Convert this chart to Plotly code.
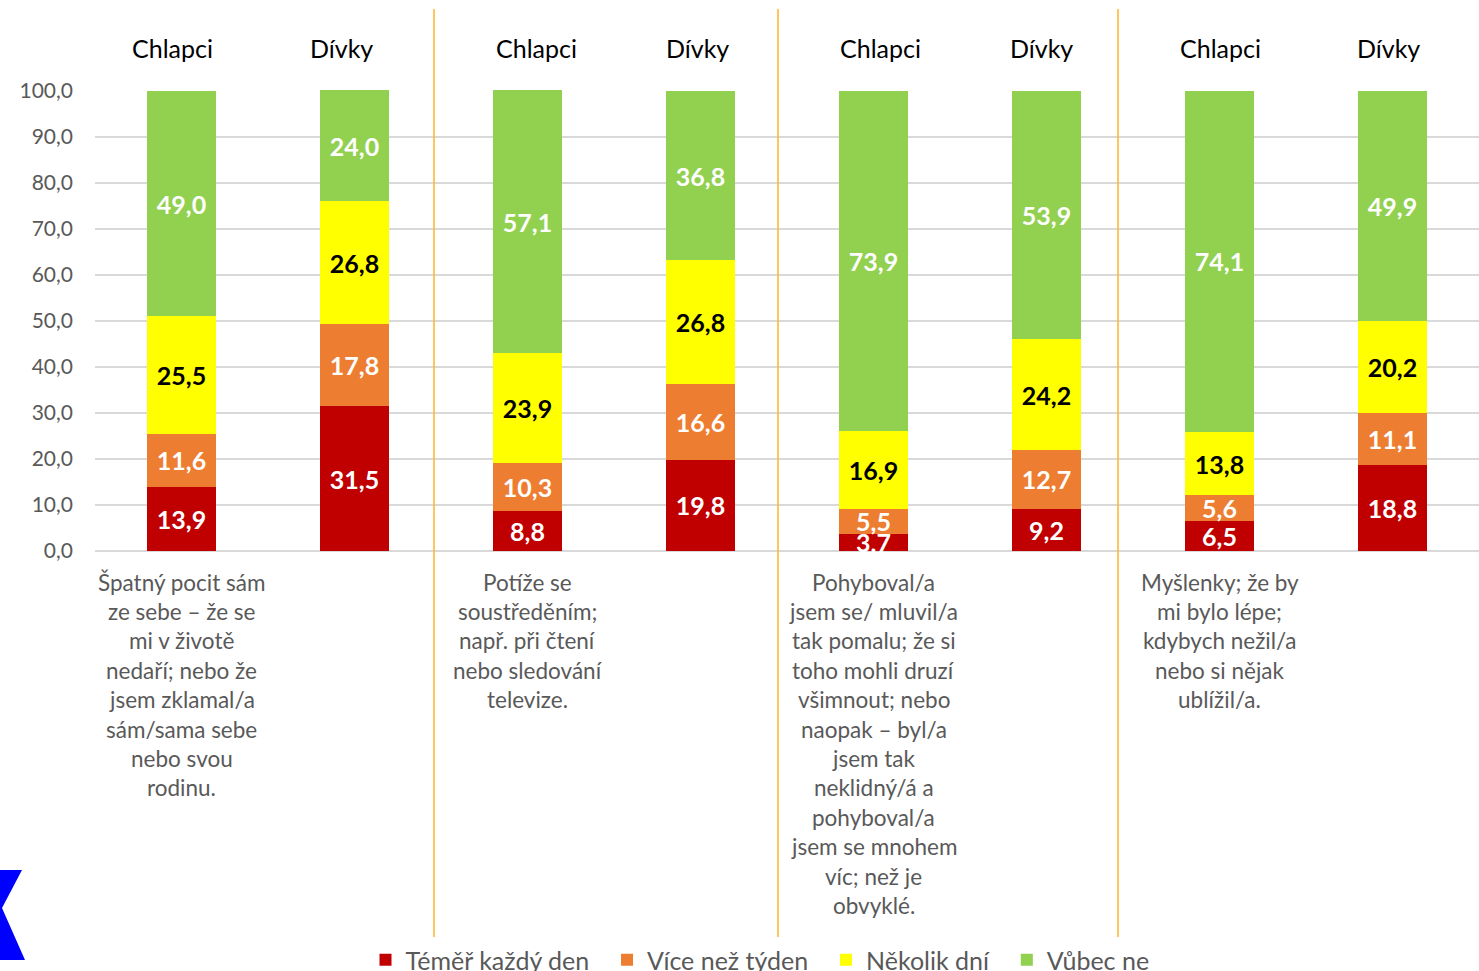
import plotly.graph_objects as go

# ---- data ----
bar_labels = ["Chlapci", "Dívky", "Chlapci", "Dívky", "Chlapci", "Dívky", "Chlapci", "Dívky"]
series_names = ["Téměř každý den", "Více než týden", "Několik dní", "Vůbec ne"]
temer_kazdy_den = [13.9, 31.5, 8.8, 19.8, 3.7, 9.2, 6.5, 18.8]
vice_nez_tyden = [11.6, 17.8, 10.3, 16.6, 5.5, 12.7, 5.6, 11.1]
nekolik_dni = [25.5, 26.8, 23.9, 26.8, 16.9, 24.2, 13.8, 20.2]
vubec_ne = [49.0, 24.0, 57.1, 36.8, 73.9, 53.9, 74.1, 49.9]
y_ticks = [0, 10, 20, 30, 40, 50, 60, 70, 80, 90, 100]
descriptions = [
    ["Špatný pocit sám", "ze sebe – že se", "mi v životě", "nedaří; nebo že",
     "jsem zklamal/a", "sám/sama sebe", "nebo svou", "rodinu."],
    ["Potíže se", "soustředěním;", "např. při čtení", "nebo sledování", "televize."],
    ["Pohyboval/a", "jsem se/ mluvil/a", "tak pomalu; že si", "toho mohli druzí",
     "všimnout; nebo", "naopak – byl/a", "jsem tak", "neklidný/á a", "pohyboval/a",
     "jsem se mnohem", "víc; než je", "obvyklé."],
    ["Myšlenky; že by", "mi bylo lépe;", "kdybych nežil/a", "nebo si nějak", "ublížil/a."],
]

colors = ["#C00000", "#ED7D31", "#FFFF00", "#92D050"]
text_colors = ["white", "white", "black", "white"]
FONT = "Lato"

W, H = 1479, 971
YMAX = 100.2
L, R, T, B = 95, 0, 90, 420
pw, ph = W - L - R, H - T - B

def px_x(px):
    return (px - L) / pw

def px_y(py):
    return (H - B - py) / ph

x = list(range(len(bar_labels)))
fig = go.Figure()
series = [temer_kazdy_den, vice_nez_tyden, nekolik_dni, vubec_ne]
for k, (name, vals, c, tc) in enumerate(zip(series_names, series, colors, text_colors)):
    pad = "\u00a0\u00a0" if k < len(series_names) - 1 else ""
    fig.add_trace(go.Bar(
        x=x, y=vals, name=name + pad, marker=dict(color=c, line=dict(width=0)),
        width=0.4, text=[f"<b>{v:.1f}</b>".replace(".", ",") for v in vals],
        texttemplate="%{text}", textposition="inside", constraintext="none",
        insidetextanchor="middle", textangle=0,
        textfont=dict(family=FONT, size=25, color=tc),
        cliponaxis=False,
    ))

label_px = [172, 341, 536, 697, 880, 1041, 1220, 1388]
annotations = []
for lab, lx in zip(bar_labels, label_px):
    annotations.append(dict(x=px_x(lx), y=px_y(48), xref="paper", yref="paper", text=lab,
                            showarrow=False, font=dict(family=FONT, size=25, color="black"),
                            xanchor="center", yanchor="middle"))
for g, lines in enumerate(descriptions):
    for j, line in enumerate(lines):
        annotations.append(dict(x=2 * g, y=px_y(582 + j * 29.4), xref="x", yref="paper",
                                text=line, showarrow=False,
                                font=dict(family=FONT, size=22.5, color="#595959"),
                                xanchor="center", yanchor="middle"))

shapes = []
for sx in [434, 778, 1118]:
    shapes.append(dict(type="line", xref="paper", yref="paper",
                       x0=px_x(sx), x1=px_x(sx), y0=px_y(9), y1=px_y(945),
                       line=dict(color="#FFB22C", width=1.5)))
# partial blue logo at bottom-left
pts = [(0, 870), (22, 870), (2, 908), (25, 960), (0, 960)]
logo = "M " + " L ".join(f"{px_x(a)},{px_y(b)}" for a, b in pts) + " Z"
shapes.append(dict(type="path", xref="paper", yref="paper", path=logo,
                   fillcolor="#0000FF", line=dict(width=0)))

fig.update_layout(
    width=W, height=H, barmode="stack", separators=", ",
    paper_bgcolor="white", plot_bgcolor="white",
    margin=dict(l=L, r=R, t=T, b=B, autoexpand=False),
    font=dict(family=FONT, color="#595959"),
    xaxis=dict(range=[-0.5, 7.5], showticklabels=False, showgrid=False,
               zeroline=False, showline=False, ticks=""),
    yaxis=dict(range=[0, YMAX], tickvals=y_ticks, tickformat=".1f",
               showgrid=True, gridcolor="#D9D9D9", gridwidth=1.5,
               zeroline=True, zerolinecolor="#D9D9D9", zerolinewidth=1.5,
               showline=False, ticks="", ticklabelstandoff=21,
               tickfont=dict(family=FONT, size=21, color="#595959")),
    legend=dict(orientation="h", x=px_x(760), xanchor="center",
                y=px_y(960), yanchor="middle",
                font=dict(family=FONT, size=25, color="#595959"),
                itemwidth=30, traceorder="normal"),
    showlegend=True,
    annotations=annotations, shapes=shapes,
)
fig.write_html("out.html", config={"displayModeBar": False},
               post_script="document.body.style.margin='0px';")
